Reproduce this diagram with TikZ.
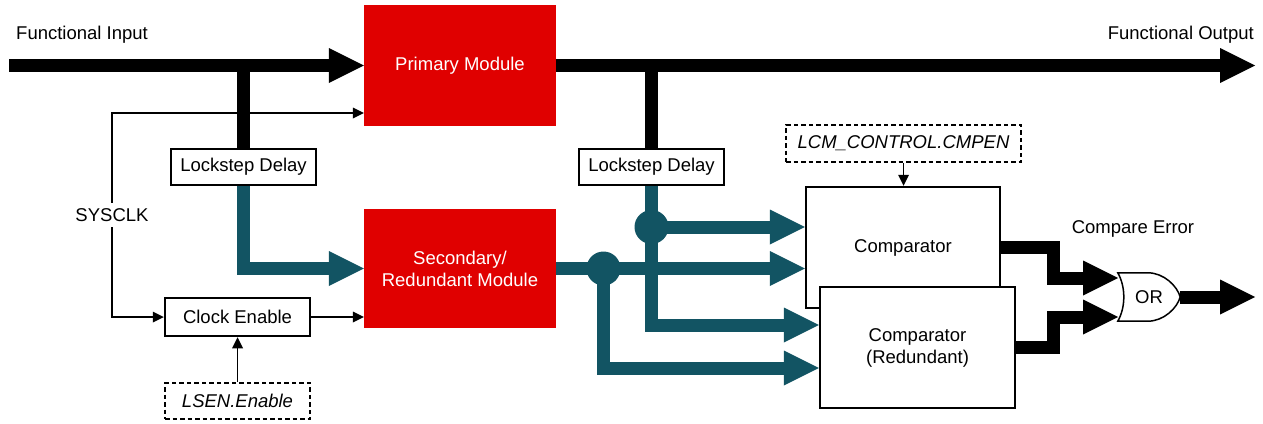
\documentclass[tikz,border=0pt]{standalone}
\usepackage{fontspec}
\setmainfont{Liberation Sans}
\usetikzlibrary{arrows.meta,calc}
\definecolor{tired}{RGB}{224,0,0}
\definecolor{tiblue}{RGB}{18,84,99}
\begin{document}
\begin{tikzpicture}[x=1pt,y=-1pt,
  font=\fontsize{18.5}{22}\selectfont,
  fatline/.style={line width=13pt},
  fatarrow/.style={line width=13pt,-{Triangle[length=35pt,width=35pt,line width=0pt]}},
  sigline/.style={line width=1.3pt},
  sigarrow/.style={line width=1.3pt,-{Triangle[length=11pt,width=11pt,line width=0pt]}},
  redmod/.style={fill=tired,text=white,minimum width=192pt,align=center,inner sep=0pt},
  plainbox/.style={draw,line width=2.5pt,fill=white,minimum width=145pt,inner sep=0pt},
  dashbox/.style={plainbox,dash pattern=on 4.5pt off 3pt,font=\fontsize{18.5}{22}\selectfont\itshape},
  cmpbox/.style={draw,line width=2.5pt,fill=white,minimum width=194pt,minimum height=121pt,align=center,inner sep=0pt},
  joint/.style={circle,fill=tiblue,minimum size=34pt,inner sep=0pt},
  label/.style={inner sep=0pt}
]
\useasboundingbox (0,0) rectangle (1263,423);

% modules and boxes
\node[redmod,minimum height=121pt] (prim) at (460,65.5) {Primary Module};
\node[redmod,minimum height=119pt] (sec) at (460,268.5) {Secondary/\\Redundant Module};
\node[plainbox,minimum height=36pt] (ld1) at (243.5,167) {Lockstep Delay};
\node[plainbox,minimum height=36pt] (ld2) at (651.5,167) {Lockstep Delay};
\node[plainbox,minimum height=38pt] (ce) at (237.5,317) {Clock Enable};
\node[dashbox,minimum height=36pt] (lsen) at (237.5,401) {LSEN.Enable};
\node[dashbox,minimum width=235pt,minimum height=37pt] (lcm) at (903.5,143.5) {LCM\_CONTROL.CMPEN};
\node[cmpbox] (cmp) at (903,247.5) {Comparator};
\node[cmpbox,minimum width=195pt] (cmpr) at (917.5,347.5) {Comparator\\(Redundant)};
\node[minimum width=62pt,minimum height=48pt,inner sep=0pt] (or) at (1149,297) {OR};

% text labels
\node[label,anchor=base west] (fin) at (16,39) {Functional Input};
\node[label,anchor=base east] (fout) at (1254,39) {Functional Output};
\node[label,anchor=base] (cerr) at (1133,233) {Compare Error};

% coordinates
\coordinate (inL) at (9,65.5);
\coordinate (outR) at (1255,65.5);
\coordinate (sysc) at (112,215);
\coordinate (bus) at (1053,297.5);
\coordinate (orin1) at (1118,278);
\coordinate (orin2) at (1118,317);
\coordinate (orout) at (1255,297);

% functional path
\draw[fatarrow] (inL) -- (prim.west);
\draw[fatarrow] (prim.east) -- (outR);
\draw[fatline] (ld1.north |- prim.west) -- (ld1.north);
\draw[fatline] (ld2.north |- prim.east) -- (ld2.north);

% teal (delayed) paths
\draw[fatarrow,tiblue] (ld1.south) |- (sec.west);
\draw[fatarrow,tiblue] (ld2.south) |- (cmpr.west |- 0,325);
\draw[fatarrow,tiblue] (sec.east) -- (sec.east -| cmp.west);
\node[joint] (d1) at (651.5,227) {};
\node[joint] (d2) at (603.5,268.5) {};
\draw[fatarrow,tiblue] (d1.center) -- (d1.center -| cmp.west);
\draw[fatarrow,tiblue] (d2.center) |- (cmpr.west |- 0,368);

% clock and control signals
\draw[sigline,{Triangle[length=11pt,width=11pt,line width=0pt]}-{Triangle[length=11pt,width=11pt,line width=0pt]}]
  (ce.west) -| (sysc) |- (prim.west |- 0,113);
\node[fill=white,inner sep=5pt] (sysk) at (sysc) {SYSCLK};
\draw[sigarrow] (ce.east) -- (ce.east -| sec.west);
\draw[sigarrow] (lsen.north) -- (ce.south);
\draw[sigarrow] (lcm.south) -- (lcm.south |- cmp.north);

% compare error
\draw[fatarrow] (cmp.east) -| (bus |- orin1) -- (orin1);
\draw[fatarrow] (cmpr.east) -| (bus |- orin2) -- (orin2);
\draw[line width=1.5pt] (or.north west) -- ++(30,0)
  .. controls ++(16,0) and ++(-3,-11) .. (or.east)
  .. controls ++(-3,11) and ++(16,0) .. ($(or.south west)+(30,0)$)
  -- (or.south west)
  .. controls ++(8,-14) and ++(8,14) .. (or.north west) -- cycle;
\draw[fatarrow] (or.east) -- (orout);
\end{tikzpicture}
\end{document}
